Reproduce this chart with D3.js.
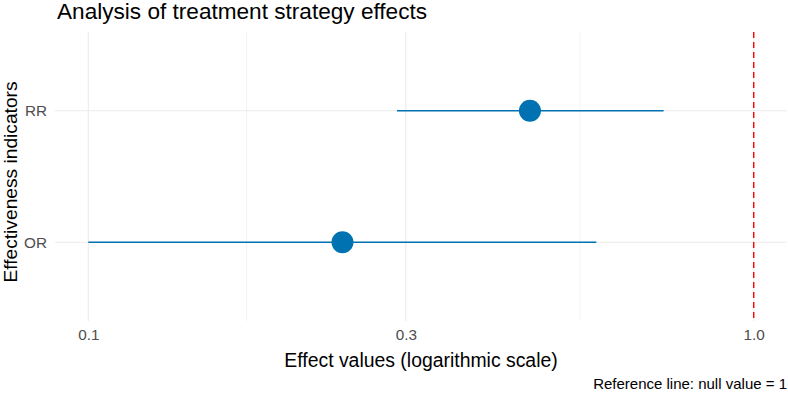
<!DOCTYPE html>
<html>
<head>
<meta charset="utf-8">
<script src="https://cdn.jsdelivr.net/npm/d3@7"></script>
<style>
  body { margin: 0; background: #fff; }
  text { font-family: "Liberation Sans", Arial, sans-serif; }
</style>
</head>
<body>
<div id="chart"></div>
<script>
const width = 788;
const height = 393;

// data
const indicators = ["OR", "RR"];
const estimates = [0.241, 0.461];
const lowers = [0.1, 0.291];
const uppers = [0.58, 0.732];
const nullValue = 1;
const xTicks = [0.1, 0.3, 1.0];
const xMinor = [0.173, 0.548];

const margin = {top: 32, right: 1, bottom: 72, left: 55};

const svg = d3.select("#chart")
  .append("svg")
  .attr("width", width)
  .attr("height", height);

// log scale with ggplot-like 5% expansion
const lo = Math.log10(0.1) - 0.05, hi = Math.log10(1) + 0.05;
const xScale = d3.scaleLog()
  .domain([Math.pow(10, lo), Math.pow(10, hi)])
  .range([margin.left, width - margin.right]);

const yScale = d3.scalePoint()
  .domain(indicators)
  .range([height - margin.bottom, margin.top])
  .padding(0.6);

// grid
svg.selectAll(".minor-x")
  .data(xMinor)
  .enter()
  .append("line")
  .attr("x1", d => xScale(d))
  .attr("x2", d => xScale(d))
  .attr("y1", margin.top)
  .attr("y2", height - margin.bottom)
  .style("stroke", "#ebebeb")
  .style("stroke-width", 0.6);

svg.selectAll(".major-x")
  .data(xTicks)
  .enter()
  .append("line")
  .attr("x1", d => xScale(d))
  .attr("x2", d => xScale(d))
  .attr("y1", margin.top)
  .attr("y2", height - margin.bottom)
  .style("stroke", "#ebebeb")
  .style("stroke-width", 1.1);

svg.selectAll(".major-y")
  .data(indicators)
  .enter()
  .append("line")
  .attr("x1", margin.left)
  .attr("x2", width - margin.right)
  .attr("y1", d => yScale(d))
  .attr("y2", d => yScale(d))
  .style("stroke", "#ebebeb")
  .style("stroke-width", 1.1);

// reference line
svg.append("line")
  .attr("x1", xScale(nullValue))
  .attr("x2", xScale(nullValue))
  .attr("y1", margin.top)
  .attr("y2", height - margin.bottom)
  .style("stroke", "#ff0000")
  .style("stroke-width", 1.4)
  .style("stroke-dasharray", "6,4");

// intervals and points
svg.selectAll(".ci")
  .data(indicators)
  .enter()
  .append("line")
  .attr("x1", (d, i) => xScale(lowers[i]))
  .attr("x2", (d, i) => xScale(uppers[i]))
  .attr("y1", d => yScale(d))
  .attr("y2", d => yScale(d))
  .style("stroke", "#0072B2")
  .style("stroke-width", 1.6);

svg.selectAll(".pt")
  .data(indicators)
  .enter()
  .append("circle")
  .attr("cx", (d, i) => xScale(estimates[i]))
  .attr("cy", d => yScale(d))
  .attr("r", 11)
  .style("fill", "#0072B2");

// axes (text only, like theme_minimal)
const xAxis = d3.axisBottom(xScale)
  .tickValues(xTicks)
  .tickFormat(d3.format(".1f"))
  .tickSize(0)
  .tickPadding(8);

const gx = svg.append("g")
  .attr("transform", "translate(0," + (height - margin.bottom) + ")")
  .call(xAxis);
gx.select(".domain").remove();
gx.selectAll("text")
  .style("font-size", "15.3px")
  .style("fill", "#4d4d4d");

const yAxis = d3.axisLeft(yScale)
  .tickSize(0)
  .tickPadding(8);

const gy = svg.append("g")
  .attr("transform", "translate(" + margin.left + ",0)")
  .call(yAxis);
gy.select(".domain").remove();
gy.selectAll("text")
  .style("font-size", "15.3px")
  .style("fill", "#4d4d4d");

// titles
svg.append("text")
  .attr("x", 57)
  .attr("y", 19)
  .style("font-size", "22.6px")
  .style("fill", "#000")
  .text("Analysis of treatment strategy effects");

svg.append("text")
  .attr("x", (margin.left + width - margin.right) / 2)
  .attr("y", 367)
  .attr("text-anchor", "middle")
  .style("font-size", "19.4px")
  .style("fill", "#000")
  .text("Effect values (logarithmic scale)");

svg.append("text")
  .attr("transform", "translate(17,182) rotate(-90)")
  .attr("text-anchor", "middle")
  .style("font-size", "19.2px")
  .style("fill", "#000")
  .text("Effectiveness indicators");

svg.append("text")
  .attr("x", width - 1)
  .attr("y", 389)
  .attr("text-anchor", "end")
  .style("font-size", "15px")
  .style("fill", "#000")
  .text("Reference line: null value = 1");
</script>
</body>
</html>
